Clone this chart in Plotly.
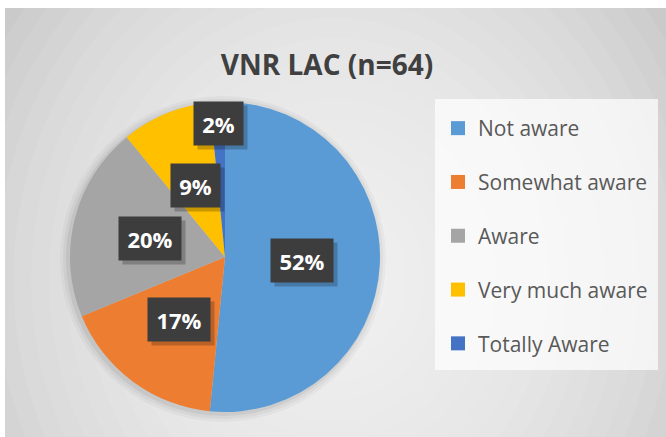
import math
import plotly.graph_objects as go

# data (n=64)
labels = ["Not aware", "Somewhat aware", "Aware", "Very much aware", "Totally Aware"]
counts = [33, 11, 13, 6, 1]
colors = ["#5B9BD5", "#ED7D31", "#A5A5A5", "#FFC000", "#4472C4"]
title_text = "VNR LAC (n=64)"

W, H = 666, 437
CX, CY, R = 225, 257, 155  # pie centre / radius in px


def px_x(x):
    return x / W


def px_y(y):
    return 1 - y / H


fig = go.Figure()

fig.add_trace(go.Pie(
    labels=labels,
    values=counts,
    marker=dict(colors=colors, line=dict(width=0)),
    sort=False,
    direction="clockwise",
    rotation=0,
    textinfo="none",
    showlegend=False,
    hoverinfo="label+percent",
    domain=dict(x=[px_x(CX - R), px_x(CX + R)], y=[px_y(CY + R), px_y(CY - R)]),
))

# legend proxies, one group each so the entries can be spread out
for lab, col in zip(labels, colors):
    fig.add_trace(go.Scatter(
        x=[None], y=[None], mode="markers", name=lab, legendgroup=lab,
        marker=dict(symbol="square", size=14, color=col),
    ))

shapes = []
# grey panel with a light centre
shapes.append(dict(type="rect", xref="paper", yref="paper", layer="below",
                   x0=px_x(5), x1=1, y0=0, y1=px_y(8),
                   fillcolor="#c2c2c2", line=dict(width=0)))
N = 24
gx, gy, rx, ry = 335, 280, 390, 440
for k in range(N):
    s = 1.1 * (N - k) / N
    shapes.append(dict(type="circle", xref="paper", yref="paper", layer="below",
                       x0=px_x(gx - rx * s), x1=px_x(gx + rx * s),
                       y0=px_y(gy + ry * s), y1=px_y(gy - ry * s),
                       fillcolor="rgba(255,255,255,0.075)", line=dict(width=0)))
# white top / left strip of the picture frame
shapes.append(dict(type="rect", xref="paper", yref="paper", layer="below",
                   x0=0, x1=1, y0=px_y(8), y1=1, fillcolor="white", line=dict(width=0)))
shapes.append(dict(type="rect", xref="paper", yref="paper", layer="below",
                   x0=0, x1=px_x(5), y0=0, y1=1, fillcolor="white", line=dict(width=0)))
# soft pie shadow
for grow, op in [(8, 0.03), (5, 0.04), (2, 0.06)]:
    shapes.append(dict(type="circle", xref="paper", yref="paper", layer="below",
                       x0=px_x(CX - R - grow - 2), x1=px_x(CX + R + grow - 2),
                       y0=px_y(CY + R + grow + 2), y1=px_y(CY - R - grow + 2),
                       fillcolor=f"rgba(0,0,0,{op})", line=dict(width=0)))
# legend panel
shapes.append(dict(type="rect", xref="paper", yref="paper", layer="below",
                   x0=px_x(435), x1=px_x(658), y0=px_y(370), y1=px_y(99),
                   fillcolor="rgba(255,255,255,0.7)", line=dict(width=0)))

# percentage labels in dark boxes, placed from the slice angles
total = sum(counts)
annotations = []
cum = 0
for v in counts:
    share = v / total
    mid = (cum + share / 2) * 2 * math.pi
    cum += share
    f = 0.5 if share > 0.05 else 0.865
    lx = CX + R * f * math.sin(mid)
    ly = CY - R * f * math.cos(mid)
    txt = f"{round(share * 100)}%"
    box_w = 13 * (len(txt) - 1) + 20
    common = dict(x=px_x(lx), y=px_y(ly), xref="paper", yref="paper",
                  showarrow=False, xanchor="center", yanchor="middle", borderpad=8,
                  width=box_w, height=27)
    # drop shadow box (no text)
    annotations.append(dict(common, text=" ", xshift=4, yshift=-4,
                            bgcolor="rgba(0,0,0,0.22)", font=dict(size=10)))
    annotations.append(dict(
        common, text=txt, bgcolor="#3d3d3d",
        font=dict(family="Open Sans", size=22, color="white", weight="bold"),
    ))

fig.update_layout(
    width=W, height=H,
    margin=dict(l=0, r=0, t=0, b=0),
    paper_bgcolor="white",
    plot_bgcolor="rgba(0,0,0,0)",
    title=dict(text=title_text, x=px_x(327), y=px_y(65), xref="paper", yref="paper",
               xanchor="center", yanchor="middle",
               font=dict(family="Open Sans", size=28, color="#404040", weight="bold")),
    xaxis=dict(visible=False),
    yaxis=dict(visible=False),
    legend=dict(x=px_x(438), y=px_y(108), xanchor="left", yanchor="top",
                bgcolor="rgba(0,0,0,0)", traceorder="grouped", tracegroupgap=23.5,
                font=dict(family="Open Sans", size=21, color="#595959")),
    shapes=shapes,
    annotations=annotations,
)

# drop the default page margin so the figure sits at the window's corner
fig.write_html("out.html", config={"displayModeBar": False},
               post_script="document.body.style.margin='0';")
